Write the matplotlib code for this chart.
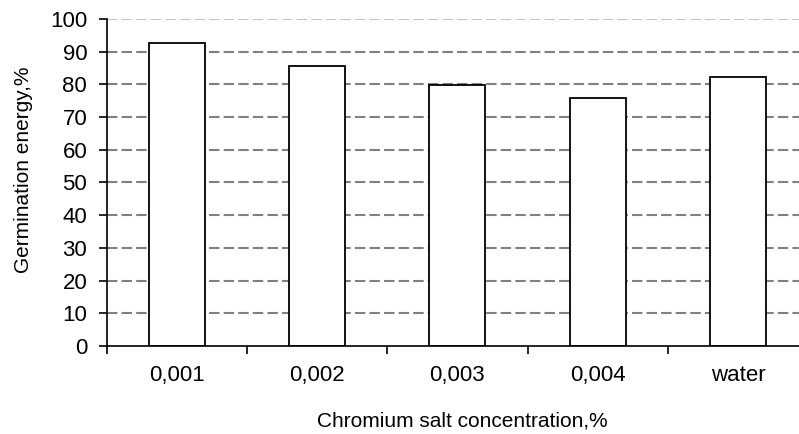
import matplotlib.pyplot as plt
import numpy as np

plt.rcParams["font.family"] = ["Liberation Sans", "DejaVu Sans"]

categories = ["0,001", "0,002", "0,003", "0,004", "water"]
germination_energy = [92.7, 85.8, 79.7, 76.0, 82.3]
y_ticks = list(range(0, 101, 10))

fig = plt.figure(figsize=(7.99, 4.34), dpi=100)
ax = fig.add_axes([0.1335, 0.203, 0.878, 0.753])

x = np.arange(len(categories))

# dashed horizontal grid
for yv in y_ticks[1:]:
    col = "#c4c4c4" if yv == 100 else "#808080"
    ax.axhline(yv, color=col, linestyle=(0, (5, 2)), linewidth=1.5, zorder=1)

ax.bar(x, germination_energy, width=0.4, color="white",
       edgecolor="black", linewidth=1.3, zorder=3)

ax.set_xlim(-0.5, len(categories) - 0.5)
ax.set_ylim(0, 100)

# ticks between categories, labels at centres
ax.set_xticks(np.arange(len(categories) + 1) - 0.5)
ax.set_xticklabels([])
ax.set_xticks(x, minor=True)
ax.set_xticklabels(categories, minor=True, fontsize=16)
ax.tick_params(axis="x", which="major", direction="out", length=6, width=1.2)
ax.tick_params(axis="x", which="minor", length=0, pad=14)

ax.set_yticks(y_ticks)
ax.tick_params(axis="y", direction="out", length=6, width=1.2, labelsize=16, pad=8)

for side in ["top", "right"]:
    ax.spines[side].set_visible(False)
for side in ["left", "bottom"]:
    ax.spines[side].set_linewidth(1.2)
    ax.spines[side].set_zorder(4)

ax.set_xlabel("Chromium salt concentration,%", fontsize=15, labelpad=24)
ax.xaxis.set_label_coords(0.507, -0.2, transform=ax.transAxes)
ax.xaxis.label.set_va("top")
ax.set_ylabel("Germination energy,%", fontsize=15)
ax.yaxis.set_label_coords(-0.105, 0.538)

plt.savefig("out.png", dpi=100)
